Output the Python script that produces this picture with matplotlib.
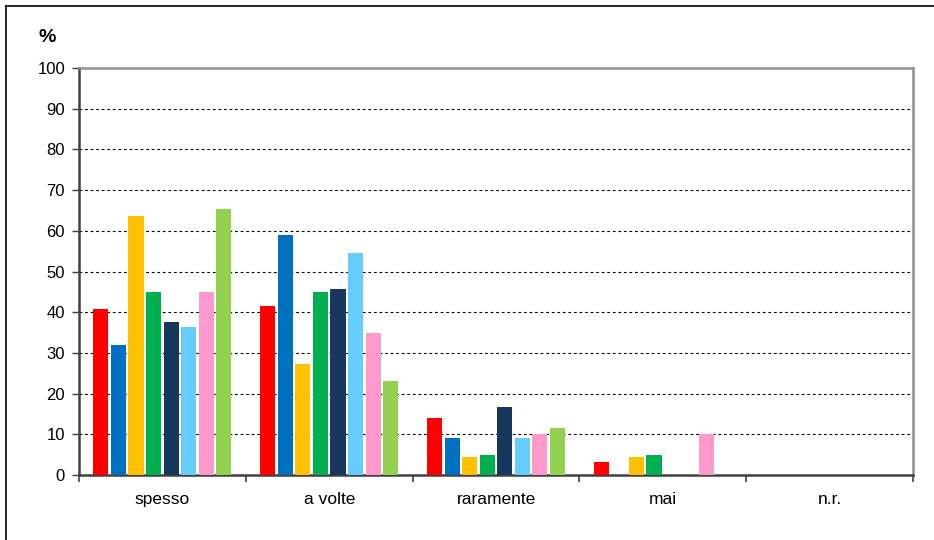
import matplotlib
matplotlib.use("Agg")
import matplotlib.pyplot as plt
from matplotlib.lines import Line2D
import numpy as np

# categories on the x axis
categories = ["spesso", "a volte", "raramente", "mai", "n.r."]

# one list per series (8 series, no legend in the original)
serie_1 = [40.8, 41.6, 14.0, 3.3, 0]
serie_2 = [32.0, 59.0, 9.0, 0, 0]
serie_3 = [63.7, 27.3, 4.5, 4.5, 0]
serie_4 = [45.0, 45.0, 4.8, 4.8, 0]
serie_5 = [37.6, 45.7, 16.7, 0, 0]
serie_6 = [36.4, 54.6, 9.0, 0, 0]
serie_7 = [45.0, 34.9, 10.0, 10.0, 0]
serie_8 = [65.4, 23.1, 11.5, 0, 0]

y_ticks = [0, 10, 20, 30, 40, 50, 60, 70, 80, 90, 100]

series = [serie_1, serie_2, serie_3, serie_4, serie_5, serie_6, serie_7, serie_8]
colors = ["#FF0000", "#0070C0", "#FFC000", "#00B050",
          "#17375E", "#66CCFF", "#FF99CC", "#92D050"]

plt.rcParams["font.family"] = ["Liberation Sans", "DejaVu Sans"]

fig = plt.figure(figsize=(9.34, 5.40), dpi=100)
ax = fig.add_axes([79 / 934, 65 / 540, 834 / 934, 407 / 540])

x = np.arange(len(categories))
step = 0.1055
width = 0.09
for i, (vals, col) in enumerate(zip(series, colors)):
    offs = (i - 3.5) * step
    ax.bar(x + offs, vals, width=width, color=col, edgecolor="none", zorder=3)

ax.set_xlim(-0.5, len(categories) - 0.5)
ax.set_ylim(0, 100)
ax.set_yticks(y_ticks)
ax.set_yticklabels([str(t) for t in y_ticks], fontsize=12)

# category labels centred, small ticks on the boundaries
ax.set_xticks(x)
ax.set_xticklabels(categories, fontsize=12.5)
ax.set_xticks(np.arange(-0.5, len(categories)), minor=True)
ax.tick_params(axis="x", which="major", length=0, pad=12)
ax.tick_params(axis="x", which="minor", length=5, width=1.2, color="#404040", direction="out")
ax.tick_params(axis="y", length=5, width=1, color="#404040", pad=5)

for t in y_ticks[1:-1]:
    ax.axhline(t, color="black", lw=0.8, ls=(0, (2.5, 2.5)), zorder=1)

ax.spines["left"].set_color("#404040")
ax.spines["bottom"].set_color("#404040")
ax.spines["top"].set_color("#909090")
ax.spines["right"].set_color("#909090")
for s in ax.spines.values():
    s.set_linewidth(1.8)

fig.text(47 / 934, 1 - 37 / 540, "%", fontsize=14, fontweight="bold",
         ha="center", va="center")

# outer frame (only top and left visible in the original)
fig.add_artist(Line2D([6 / 934, 6 / 934], [0, 1 - 6 / 540], color="black", lw=1.2))
fig.add_artist(Line2D([6 / 934, 1], [1 - 6 / 540, 1 - 6 / 540], color="black", lw=1.2))

fig.savefig("out.png", dpi=100)
